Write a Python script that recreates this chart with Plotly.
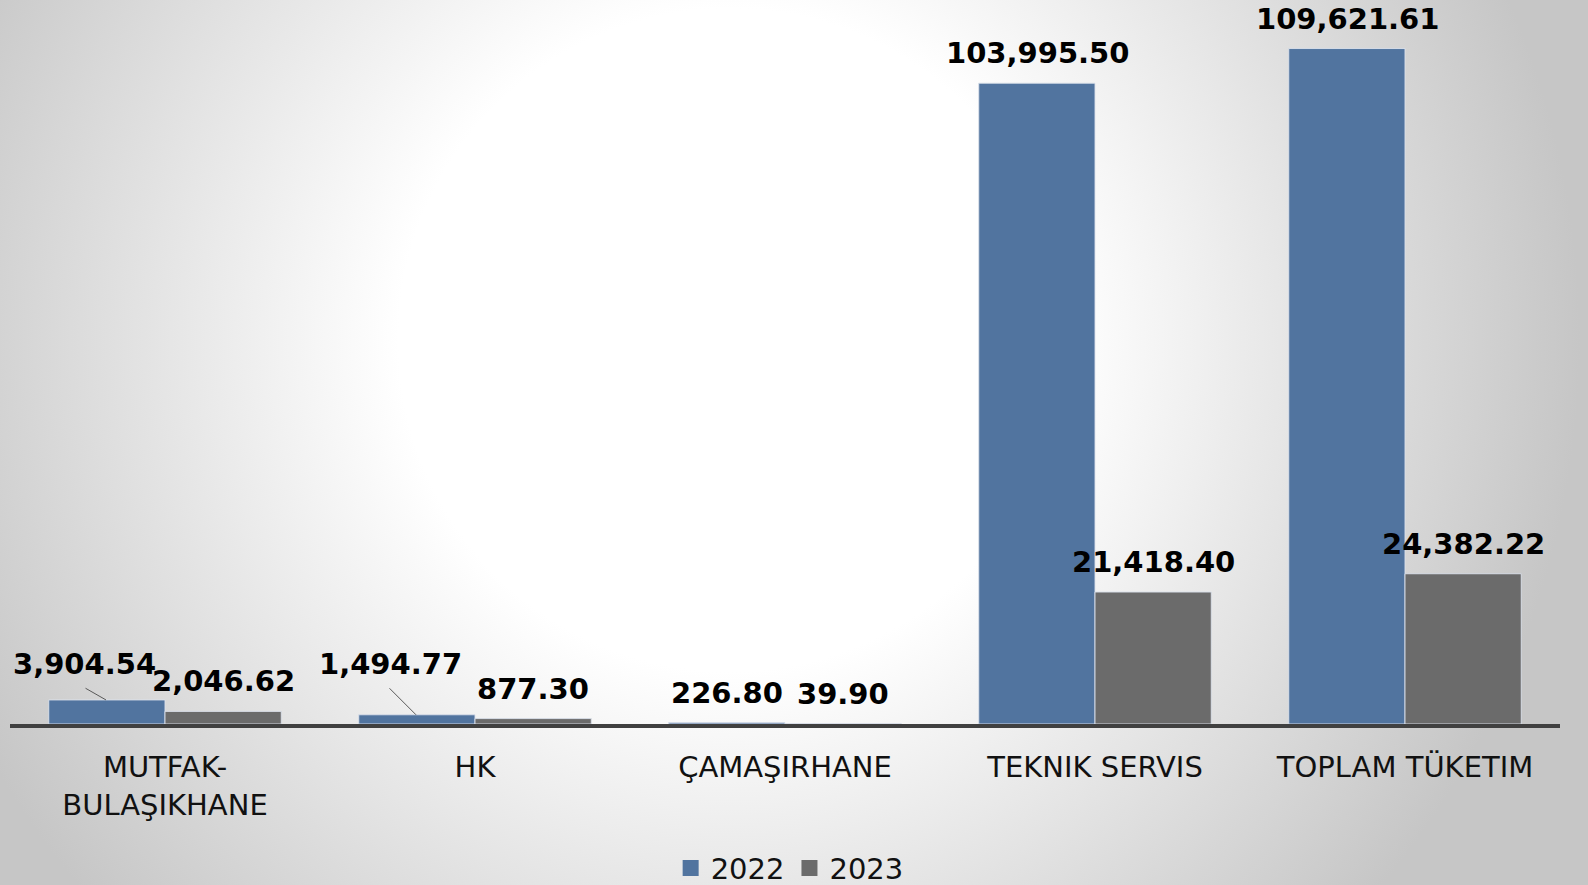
import base64
import plotly.graph_objects as go

categories = ["MUTFAK-<br>BULAŞIKHANE", "HK", "ÇAMAŞIRHANE", "TEKNIK SERVIS", "TOPLAM TÜKETIM"]
series_names = ["2022", "2023"]
values_2022 = [3904.54, 1494.77, 226.80, 103995.50, 109621.61]
values_2023 = [2046.62, 877.30, 39.90, 21418.40, 24382.22]
colors = ["#51749F", "#6B6B6B"]

W, H = 1588, 885
ML, MR, MT, MB = 10, 28, 0, 161
PW, PH = W - ML - MR, H - MT - MB

svg = f'''<svg xmlns="http://www.w3.org/2000/svg" width="{W}" height="{H}" viewBox="0 0 {W} {H}">
<defs><radialGradient id="g" gradientUnits="userSpaceOnUse" cx="730" cy="340" r="850">
<stop offset="0" stop-color="#ffffff"/><stop offset="0.39" stop-color="#ffffff"/>
<stop offset="1" stop-color="#c6c6c6"/></radialGradient></defs>
<rect x="0" y="0" width="{W}" height="{H}" fill="url(#g)"/></svg>'''
bg_uri = "data:image/svg+xml;base64," + base64.b64encode(svg.encode()).decode()

fig = go.Figure()
for name, vals, col in zip(series_names, [values_2022, values_2023], colors):
    fig.add_trace(go.Bar(
        name=name, x=categories, y=vals, showlegend=False,
        marker=dict(color=col, line=dict(color="rgba(220,225,235,0.9)", width=1)),
    ))
# legend entries with larger square swatches
for name, col in zip(series_names, colors):
    fig.add_trace(go.Scatter(
        name=name, x=[None], y=[None], mode="markers",
        marker=dict(symbol="square", size=16, color=col), showlegend=True,
    ))

def fmt(v):
    return f"{v:,.2f}"

label_font = dict(family="DejaVu Sans", size=29, color="#000000")
annotations = []
bar_off = [-58, 58]
# moved labels: (series, category) -> (label xshift, label yshift, leader start dx, dy)
moved = {(0, 0): (-23, 36, -21, -12), (0, 1): (-27, 51, -27, -27)}
for si, vals in enumerate([values_2022, values_2023]):
    for ci, v in enumerate(vals):
        if (si, ci) in moved:
            lx, ly, adx, ady = moved[(si, ci)]
            annotations.append(dict(
                x=categories[ci], y=v, xref="x", yref="y",
                xshift=bar_off[si] + lx, yshift=ly, yanchor="middle",
                text=f"<b>{fmt(v)}</b>", font=label_font, showarrow=False,
            ))
            annotations.append(dict(
                x=categories[ci], y=v, xref="x", yref="y",
                xshift=bar_off[si] - 1, text=" ", font=dict(size=1),
                showarrow=True, arrowhead=0, arrowwidth=1, arrowcolor="#595959",
                ax=adx, ay=ady, standoff=0, startstandoff=0, borderpad=0,
            ))
        else:
            annotations.append(dict(
                x=categories[ci], y=v, xref="x", yref="y",
                xshift=bar_off[si], yshift=30, yanchor="middle",
                text=f"<b>{fmt(v)}</b>", font=label_font, showarrow=False,
            ))

fig.update_layout(
    width=W, height=H,
    margin=dict(l=ML, r=MR, t=MT, b=MB, autoexpand=False),
    paper_bgcolor="#e0e0e0", plot_bgcolor="rgba(0,0,0,0)",
    barmode="group", bargap=0.25, bargroupgap=0.0,
    images=[dict(source=bg_uri, xref="paper", yref="paper",
                 x=-ML / PW, y=1 + MT / PH, sizex=W / PW, sizey=H / PH,
                 xanchor="left", yanchor="top", sizing="stretch", layer="below")],
    xaxis=dict(showline=True, linecolor="#404040", linewidth=4, ticks="",
               tickfont=dict(family="DejaVu Sans", size=29, color="#111111"),
               showgrid=False, zeroline=False, ticklabelstandoff=14, automargin=False),
    yaxis=dict(range=[0, 117500], visible=False, showgrid=False, zeroline=False,
               automargin=False),
    legend=dict(orientation="h", x=0.503, xanchor="center", y=-0.199, yanchor="middle",
                font=dict(family="DejaVu Sans", size=29, color="#111111"),
                bgcolor="rgba(0,0,0,0)", itemwidth=30, tracegroupgap=0),
    annotations=annotations,
)

fig.write_html("out.html", config={"displayModeBar": False},
               post_script="document.body.style.margin='0';document.body.style.overflow='hidden';")
